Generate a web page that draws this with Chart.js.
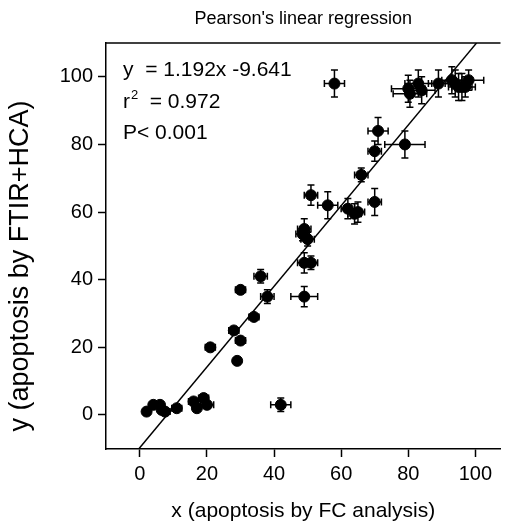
<!DOCTYPE html>
<html>
<head>
<meta charset="utf-8">
<script src="https://cdn.jsdelivr.net/npm/chart.js@4.4.1/dist/chart.umd.min.js"></script>
<style>
html,body{margin:0;padding:0;background:#fff;}
#wrap{width:507px;height:523px;position:relative;}
</style>
</head>
<body>
<div id="wrap"><canvas id="c" width="507" height="523"></canvas></div>
<script>
// Data
const xVals = [2, 4, 6, 6.5, 7.5, 11, 16, 17, 19, 20, 42, 29, 21, 30, 28, 34, 30, 38, 36, 49, 49, 51, 50, 48.5, 49, 51, 56, 62, 64, 65, 70, 66, 70, 71, 79, 58, 80, 80.5, 83, 84, 89, 93, 94, 95, 96, 97, 98];
const yVals = [1, 3, 3, 1.5, 1, 2, 4, 2, 5, 3, 3, 16, 20, 22, 25, 29, 37, 35, 41, 35, 45, 45, 52, 53.5, 55, 65, 62, 61, 59.5, 60, 63, 71, 78, 84, 80, 98, 96.5, 95, 98, 96, 98, 99, 98, 97, 97, 97, 99];
const xErr = [0, 0, 0, 0, 1.5, 1.5, 1.5, 1, 1.5, 2, 3, 0, 1.5, 1.5, 1.5, 1.5, 1.5, 2, 2, 4, 2, 2, 2, 2, 2, 2, 3, 2, 2, 2, 2, 2, 2, 3, 6, 3, 5, 5, 4, 4, 3, 3, 3, 3, 3, 3, 4.5];
const yErr = [0, 0, 0, 0, 0, 0, 0.5, 0, 0.5, 1, 2, 0, 0.5, 0.5, 0.5, 0.5, 0.5, 2, 2, 3, 3, 2, 2, 2, 3, 3, 4, 3, 3, 3, 4, 2, 3, 4, 4, 4, 4, 4, 4, 4, 4, 4, 4, 4, 4, 3, 3];
const xTicks = [0, 20, 40, 60, 80, 100];
const yTicks = [0, 20, 40, 60, 80, 100];
const slope = 1.192, intercept = -9.641;
const fitX = [-0.35, 100.4];
const statLines = ["y  = 1.192x -9.641", "r", "P< 0.001"];
const yTitle = "y (apoptosis by FTIR+HCA)";

const FONT = "'Liberation Sans', Arial, sans-serif";

const points = xVals.map((v, i) => ({x: v, y: yVals[i]}));
const fitPts = fitX.map(v => ({x: v, y: slope * v + intercept}));

const errorBars = {
  id: 'errorBars',
  beforeDatasetsDraw(chart) {
    const ctx = chart.ctx, xs = chart.scales.x, ys = chart.scales.y;
    const cap = 3.5;
    ctx.save();
    ctx.strokeStyle = '#000';
    ctx.lineWidth = 1.5;
    for (let i = 0; i < xVals.length; i++) {
      const px = xs.getPixelForValue(xVals[i]);
      const py = ys.getPixelForValue(yVals[i]);
      if (xErr[i] > 0) {
        const x1 = xs.getPixelForValue(xVals[i] - xErr[i]);
        const x2 = xs.getPixelForValue(xVals[i] + xErr[i]);
        ctx.beginPath();
        ctx.moveTo(x1, py); ctx.lineTo(x2, py);
        ctx.moveTo(x1, py - cap); ctx.lineTo(x1, py + cap);
        ctx.moveTo(x2, py - cap); ctx.lineTo(x2, py + cap);
        ctx.stroke();
      }
      if (yErr[i] > 0) {
        const y1 = ys.getPixelForValue(yVals[i] - yErr[i]);
        const y2 = ys.getPixelForValue(yVals[i] + yErr[i]);
        ctx.beginPath();
        ctx.moveTo(px, y1); ctx.lineTo(px, y2);
        ctx.moveTo(px - cap, y1); ctx.lineTo(px + cap, y1);
        ctx.moveTo(px - cap, y2); ctx.lineTo(px + cap, y2);
        ctx.stroke();
      }
    }
    ctx.restore();
  },
  afterDraw(chart) {
    const ctx = chart.ctx, a = chart.chartArea;
    ctx.save();
    // top border of box
    ctx.strokeStyle = '#000';
    ctx.lineWidth = 1.5;
    ctx.beginPath();
    ctx.moveTo(a.left, a.top); ctx.lineTo(a.right, a.top);
    ctx.stroke();
    // stats text
    ctx.fillStyle = '#000';
    ctx.textBaseline = 'middle';
    ctx.textAlign = 'left';
    ctx.font = '21px ' + FONT;
    const tx = a.left + 17;
    ctx.fillText(statLines[0], tx, a.top + 27);
    ctx.fillText(statLines[1], tx, a.top + 59);
    const rw = ctx.measureText(statLines[1]).width;
    ctx.fillText("  = 0.972", tx + rw + 8, a.top + 59);
    ctx.font = '13px ' + FONT;
    ctx.fillText("2", tx + rw + 1, a.top + 52);
    ctx.font = '21px ' + FONT;
    ctx.fillText(statLines[2], tx, a.top + 90);
    // y axis title
    ctx.translate(21, 266);
    ctx.rotate(-Math.PI / 2);
    ctx.textAlign = 'center';
    ctx.font = '27px ' + FONT;
    ctx.fillText(yTitle, 0, 0);
    ctx.restore();
  }
};

new Chart(document.getElementById('c'), {
  type: 'scatter',
  data: {
    datasets: [
      {
        type: 'line',
        data: fitPts,
        borderColor: '#000',
        borderWidth: 1.5,
        pointRadius: 0,
        fill: false,
        order: 2
      },
      {
        data: points,
        backgroundColor: '#000',
        borderColor: '#000',
        pointRadius: 5.5,
        pointHoverRadius: 5.5,
        order: 1
      }
    ]
  },
  options: {
    responsive: false,
    animation: false,
    devicePixelRatio: 1,
    layout: {padding: {left: 0, right: 0, top: 0, bottom: 0}},
    plugins: {
      legend: {display: false},
      tooltip: {enabled: false},
      title: {
        display: true,
        fullSize: false,
        text: "Pearson's linear regression",
        color: '#000',
        font: {family: FONT, size: 18, weight: 'normal'},
        padding: {top: 8, bottom: 13.4}
      }
    },
    scales: {
      x: {
        type: 'linear',
        min: -10.1,
        max: 107.5,
        afterBuildTicks(s) { s.ticks = xTicks.map(v => ({value: v})); },
        afterFit(s) { s.height = 74; },
        grid: {display: true, drawOnChartArea: false, drawTicks: true, tickLength: 8, tickColor: '#000', tickWidth: 1.5, color: '#000'},
        border: {display: true, color: '#000', width: 1.5},
        ticks: {color: '#000', font: {family: FONT, size: 20}, padding: 5, maxRotation: 0, autoSkip: false},
        title: {display: true, text: 'x (apoptosis by FC analysis)', color: '#000', font: {family: FONT, size: 21}, padding: {top: 0, bottom: -1}}
      },
      y: {
        type: 'linear',
        min: -10.06,
        max: 110,
        afterBuildTicks(s) { s.ticks = yTicks.map(v => ({value: v})); },
        afterFit(s) { s.width = 106; },
        grid: {display: true, drawOnChartArea: false, drawTicks: true, tickLength: 8, tickColor: '#000', tickWidth: 1.5, color: '#000'},
        border: {display: true, color: '#000', width: 1.5},
        ticks: {color: '#000', font: {family: FONT, size: 20}, padding: 5, autoSkip: false},
        title: {display: false}
      }
    }
  },
  plugins: [errorBars]
});
</script>
</body>
</html>
